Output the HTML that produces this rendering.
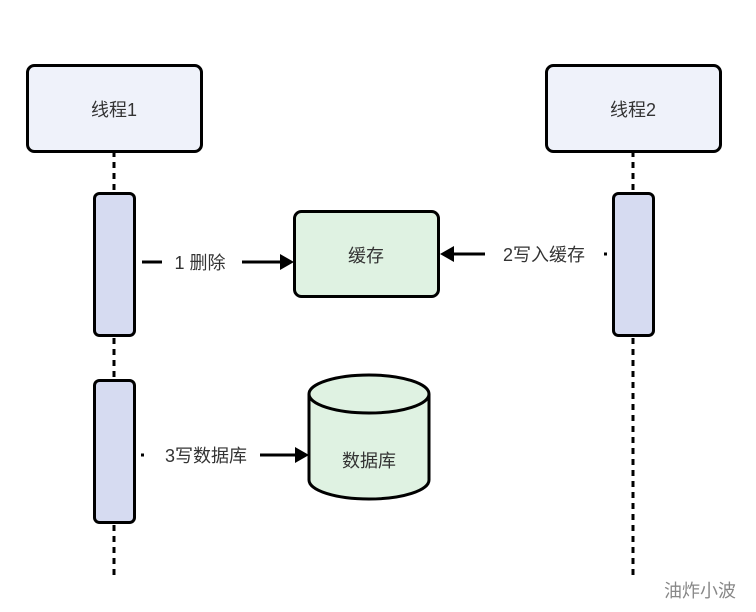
<!DOCTYPE html>
<html><head><meta charset="utf-8"><style>
html,body{margin:0;padding:0;background:#fff;}
svg{display:block;}
text{font-family:"Liberation Sans","Noto Sans CJK SC",sans-serif;fill:#333;}
</style></head><body>
<svg width="756" height="612" viewBox="0 0 756 612" xmlns="http://www.w3.org/2000/svg">
<g stroke="#000" stroke-width="3" stroke-dasharray="6,5" fill="none">
<line x1="114" y1="151" x2="114" y2="578"/>
<line x1="633" y1="151" x2="633" y2="578"/>
</g>
<rect x="27.5" y="65.5" width="174" height="86" rx="7" fill="#eff2fa" stroke="#000" stroke-width="3"/>
<rect x="546.5" y="65.5" width="174" height="86" rx="7" fill="#eff2fa" stroke="#000" stroke-width="3"/>
<text x="114" y="116" font-size="18" text-anchor="middle">线程1</text>
<text x="633" y="116" font-size="18" text-anchor="middle">线程2</text>
<rect x="94.5" y="193.5" width="40" height="142" rx="5" fill="#d6dbf1" stroke="#000" stroke-width="3"/>
<rect x="94.5" y="380.5" width="40" height="142" rx="5" fill="#d6dbf1" stroke="#000" stroke-width="3"/>
<rect x="613.5" y="193.5" width="40" height="142" rx="5" fill="#d6dbf1" stroke="#000" stroke-width="3"/>
<rect x="294.5" y="211.5" width="144" height="85" rx="7" fill="#dff2e2" stroke="#000" stroke-width="3"/>
<text x="366" y="262" font-size="18" text-anchor="middle">缓存</text>
<path d="M309,394 L309,480 A60,19 0 0 0 429,480 L429,394 A60,19 0 0 0 309,394 Z" fill="#dff2e2" stroke="#000" stroke-width="3"/>
<path d="M309,394 A60,19 0 0 0 429,394" fill="none" stroke="#000" stroke-width="3"/>
<text x="369" y="467" font-size="18" text-anchor="middle">数据库</text>
<g stroke="#000" stroke-width="3">
<line x1="142" y1="262" x2="162" y2="262"/>
<line x1="242" y1="262" x2="280" y2="262"/>
<line x1="485" y1="254" x2="452" y2="254"/>
<line x1="604" y1="254" x2="607" y2="254"/>
<line x1="141" y1="455" x2="144" y2="455"/>
<line x1="260" y1="455" x2="295" y2="455"/>
</g>
<g fill="#000">
<path d="M280,254 L294,262 L280,270 Z"/>
<path d="M454,246 L440,254 L454,262 Z"/>
<path d="M295,447 L309,455 L295,463 Z"/>
</g>
<text x="200" y="269" font-size="18" text-anchor="middle">1 删除</text>
<text x="544" y="261" font-size="18" text-anchor="middle">2写入缓存</text>
<text x="206" y="462" font-size="18" text-anchor="middle">3写数据库</text>
<text x="700" y="597" font-size="18" text-anchor="middle" style="fill:#888">油炸小波</text>
</svg>
</body></html>
